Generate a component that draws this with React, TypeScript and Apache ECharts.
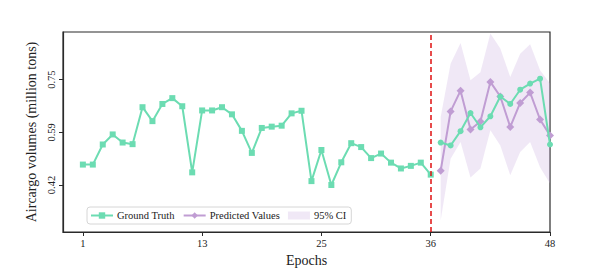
import React, { useEffect, useRef } from "react";
import * as echarts from "echarts";

const epochsHist = [1, 2, 3, 4, 5, 6, 7, 8, 9, 10, 11, 12, 13, 14, 15, 16, 17, 18, 19, 20, 21, 22, 23, 24, 25, 26, 27, 28, 29, 30, 31, 32, 33, 34, 35, 36];
const truthHist = [0.488, 0.488, 0.55, 0.581, 0.556, 0.551, 0.665, 0.622, 0.675, 0.693, 0.668, 0.464, 0.655, 0.655, 0.665, 0.643, 0.592, 0.524, 0.601, 0.605, 0.608, 0.646, 0.654, 0.437, 0.533, 0.425, 0.495, 0.554, 0.542, 0.508, 0.522, 0.494, 0.476, 0.484, 0.494, 0.457];
const epochsFuture = [37, 38, 39, 40, 41, 42, 43, 44, 45, 46, 47, 48];
const truthFuture = [0.556, 0.547, 0.591, 0.647, 0.603, 0.637, 0.698, 0.675, 0.719, 0.738, 0.753, 0.55];
const predicted = [0.469, 0.652, 0.716, 0.596, 0.621, 0.743, 0.698, 0.604, 0.678, 0.71, 0.627, 0.578];
const ciUpper = [0.635, 0.799, 0.863, 0.748, 0.773, 0.892, 0.846, 0.758, 0.83, 0.859, 0.779, 0.738];
const ciLower = [0.316, 0.506, 0.558, 0.448, 0.476, 0.594, 0.547, 0.455, 0.527, 0.558, 0.48, 0.43];
const xTicks = [1, 13, 25, 36, 48];
const yTicks = [0.425, 0.5875, 0.75];
const yTickLabels = ["0.42", "0.59", "0.75"];
const splitEpoch = 36;

const GREEN = "#6cdcb2";
const PURPLE = "#c09dd3";
const BAND = "rgba(200,170,220,0.27)";
const FONT = "Liberation Serif";
const FRAME = "#2a2a2a";
const FRAME_W = 1.2;

const G_LEFT = 63;
const G_TOP = 32;
const G_W = 487;
const G_H = 200;

export default function App() {
  const ref = useRef<HTMLDivElement>(null);
  useEffect(() => {
    if (!ref.current) return;
    const chart = echarts.init(ref.current, undefined, { renderer: "svg" });
    const bandData = epochsFuture.map((e, i) => [e, ciLower[i], ciUpper[i]]);
    chart.setOption({
      animation: false,
      textStyle: { fontFamily: FONT },
      grid: {
        left: G_LEFT,
        top: G_TOP,
        width: G_W,
        height: G_H,
        show: true,
        borderColor: FRAME,
        borderWidth: FRAME_W,
        backgroundColor: "transparent",
      },
      legend: {
        left: 87,
        top: 207,
        orient: "horizontal",
        data: [
          { name: "Ground Truth" },
          { name: "Predicted Values" },
          { name: "95% CI", icon: "rect", itemStyle: { color: BAND } },
        ],
        itemWidth: 22,
        itemHeight: 8,
        itemGap: 8,
        padding: [3, 5, 3, 3],
        backgroundColor: "#fff",
        borderColor: "#d6d6d6",
        borderWidth: 1,
        borderRadius: 3,
        textStyle: { fontFamily: FONT, fontSize: 10.5, color: "#222", padding: [0, 0, 0, -1] },
      },
      xAxis: {
        type: "value",
        min: -1,
        max: 48,
        name: "Epochs",
        nameLocation: "middle",
        nameGap: 18,
        nameTextStyle: { fontFamily: FONT, fontSize: 14, color: "#222" },
        splitLine: { show: false },
        axisLine: { show: true, onZero: false, lineStyle: { color: FRAME, width: FRAME_W } },
        axisTick: { show: true, length: 4, customValues: xTicks, lineStyle: { color: FRAME } },
        axisLabel: { customValues: xTicks, fontFamily: FONT, fontSize: 10.5, color: "#222", margin: 6 },
      },
      yAxis: {
        type: "value",
        min: 0.28,
        max: 0.897,
        name: "Aircargo volumes (million tons)",
        nameLocation: "middle",
        nameGap: 19,
        nameTextStyle: { fontFamily: FONT, fontSize: 14, color: "#222" },
        splitLine: { show: false },
        axisLine: { show: true, onZero: false, lineStyle: { color: FRAME, width: FRAME_W } },
        axisTick: { show: true, length: 4, customValues: yTicks, lineStyle: { color: FRAME } },
        axisLabel: {
          customValues: yTicks,
          rotate: 90,
          fontFamily: FONT,
          fontSize: 10.5,
          color: "#222",
          margin: 6,
          formatter: (v: number) => {
            const idx = yTicks.findIndex((t) => Math.abs(t - v) < 1e-6);
            return idx >= 0 ? yTickLabels[idx] : "";
          },
        },
      },
      series: [
        {
          name: "95% CI",
          type: "custom",
          data: bandData,
          clip: true,
          z: 1,
          itemStyle: { color: BAND },
          renderItem: (params: any, api: any) => {
            if (params.dataIndex !== 0) return null;
            const top = bandData.map((d) => api.coord([d[0], d[2]]));
            const bot = bandData.map((d) => api.coord([d[0], d[1]])).reverse();
            return {
              type: "polygon",
              shape: { points: top.concat(bot) },
              style: { fill: BAND, stroke: "none" },
            };
          },
        },
        {
          name: "Ground Truth",
          type: "line",
          data: epochsHist.map((e, i) => [e, truthHist[i]]),
          symbol: "rect",
          symbolSize: 6,
          showSymbol: true,
          z: 3,
          lineStyle: { color: GREEN, width: 2 },
          itemStyle: { color: GREEN },
          markLine: {
            silent: true,
            symbol: "none",
            label: { show: false },
            lineStyle: { color: "#e01010", type: [5, 3], width: 1.5 },
            data: [{ xAxis: splitEpoch }],
          },
        },
        {
          name: "Predicted Values",
          type: "line",
          data: epochsFuture.map((e, i) => [e, predicted[i]]),
          symbol: "diamond",
          symbolSize: 8,
          z: 3,
          lineStyle: { color: PURPLE, width: 2 },
          itemStyle: { color: PURPLE },
        },
        {
          name: "Ground Truth",
          type: "line",
          data: epochsFuture.map((e, i) => [e, truthFuture[i]]),
          symbol: "circle",
          symbolSize: 6,
          z: 4,
          lineStyle: { color: GREEN, width: 2 },
          itemStyle: { color: GREEN },
        },
      ],
    });
    return () => chart.dispose();
  }, []);
  return (
    <div
      ref={ref}
      style={{ position: "fixed", left: 0, top: 0, width: 595, height: 273, background: "#fff" }}
    />
  );
}
